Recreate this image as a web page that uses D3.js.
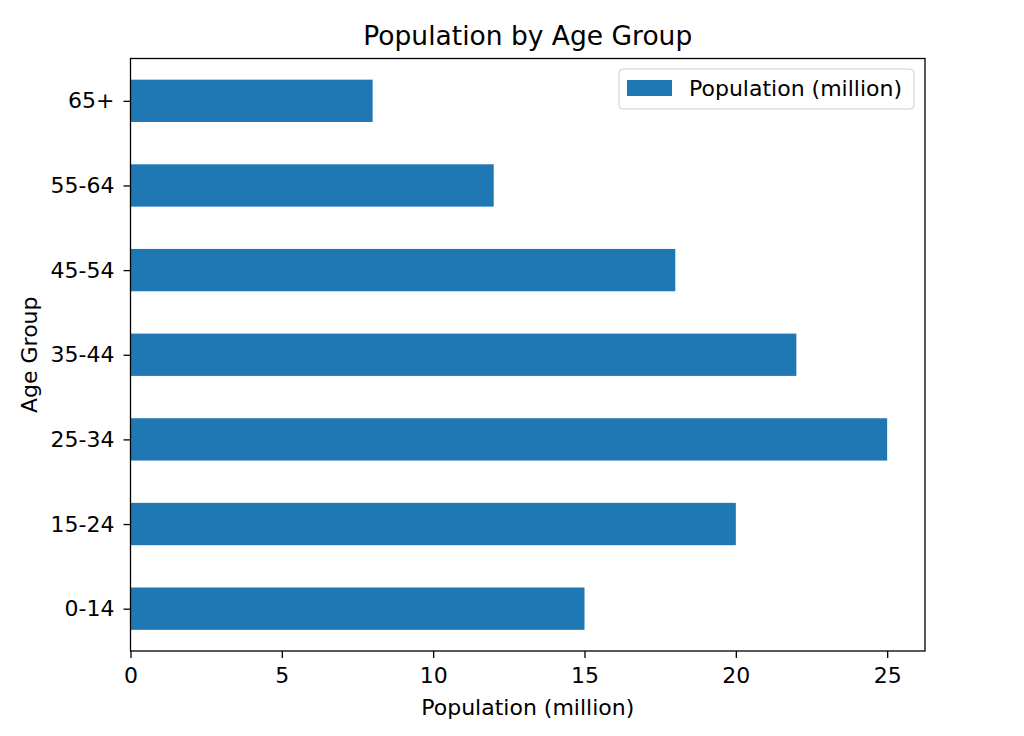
<!DOCTYPE html>
<html lang="en">
<head>
<meta charset="utf-8">
<title>Population by Age Group</title>
<script src="https://d3js.org/d3.v7.min.js"></script>
<style>
  body { margin: 0; background: #fff; }
  text { font-family: "DejaVu Sans", sans-serif; fill: #000; }
</style>
</head>
<body>
<script>
// data
var ageGroups = ["0-14", "15-24", "25-34", "35-44", "45-54", "55-64", "65+"];
var population = [15, 20, 25, 22, 18, 12, 8];
var xTicks = [0, 5, 10, 15, 20, 25];

var w = 1024, h = 736;
var mLeft = 130.5, mTop = 58.5, mRight = 925, mBottom = 651;

var svg = d3.select("body").append("svg")
    .attr("width", w)
    .attr("height", h);

var maxVal = d3.max(population);
var x = d3.scaleLinear()
    .domain([0, maxVal * 1.05])
    .range([mLeft, mRight]);

// categorical positions like matplotlib: index -0.5 .. n-0.5, first at bottom
var y = d3.scaleLinear()
    .domain([-0.5, ageGroups.length - 0.5])
    .range([mBottom, mTop]);
var step = Math.abs(y(1) - y(0));

svg.append("g")
  .selectAll("rect")
  .data(population)
  .enter().append("rect")
    .attr("x", x(0))
    .attr("y", function(d, i) { return y(i) - step * 0.25; })
    .attr("width", function(d) { return x(d) - x(0); })
    .attr("height", step * 0.5)
    .attr("fill", "#1f77b4");

// axes
var xAxis = svg.append("g")
    .attr("transform", "translate(0," + mBottom + ")")
    .call(d3.axisBottom(x).tickValues(xTicks).tickSize(7).tickPadding(9));
var yAxis = svg.append("g")
    .attr("transform", "translate(" + mLeft + ",0)")
    .call(d3.axisLeft(y)
        .tickValues(d3.range(ageGroups.length))
        .tickFormat(function(i) { return ageGroups[i]; })
        .tickSize(7).tickPadding(9));

[xAxis, yAxis].forEach(function(a) {
  a.select(".domain").remove();
  a.selectAll("line").attr("stroke", "#000").attr("stroke-width", 1.3);
  a.selectAll("text").attr("font-size", "22px").attr("fill", "#000")
    .style("font-family", "DejaVu Sans");
});

// frame
svg.append("rect")
    .attr("x", mLeft).attr("y", mTop)
    .attr("width", mRight - mLeft).attr("height", mBottom - mTop)
    .attr("fill", "none").attr("stroke", "#000").attr("stroke-width", 1.3);

// title and labels
svg.append("text")
    .attr("x", (mLeft + mRight) / 2).attr("y", 45)
    .attr("text-anchor", "middle")
    .attr("font-size", "26.5px")
    .text("Population by Age Group");

svg.append("text")
    .attr("x", (mLeft + mRight) / 2).attr("y", 715)
    .attr("text-anchor", "middle")
    .attr("font-size", "22px")
    .text("Population (million)");

svg.append("text")
    .attr("transform", "translate(37," + ((mTop + mBottom) / 2) + ") rotate(-90)")
    .attr("text-anchor", "middle")
    .attr("font-size", "22px")
    .text("Age Group");

// legend
var lg = svg.append("g").attr("transform", "translate(619,69)");
lg.append("rect")
    .attr("width", 295).attr("height", 40)
    .attr("rx", 4)
    .attr("fill", "#fff").attr("fill-opacity", 0.8)
    .attr("stroke", "#ccc");
lg.append("rect")
    .attr("x", 8).attr("y", 11)
    .attr("width", 45).attr("height", 16)
    .attr("fill", "#1f77b4");
lg.append("text")
    .attr("x", 70).attr("y", 27)
    .attr("font-size", "22px")
    .text("Population (million)");
</script>
</body>
</html>
